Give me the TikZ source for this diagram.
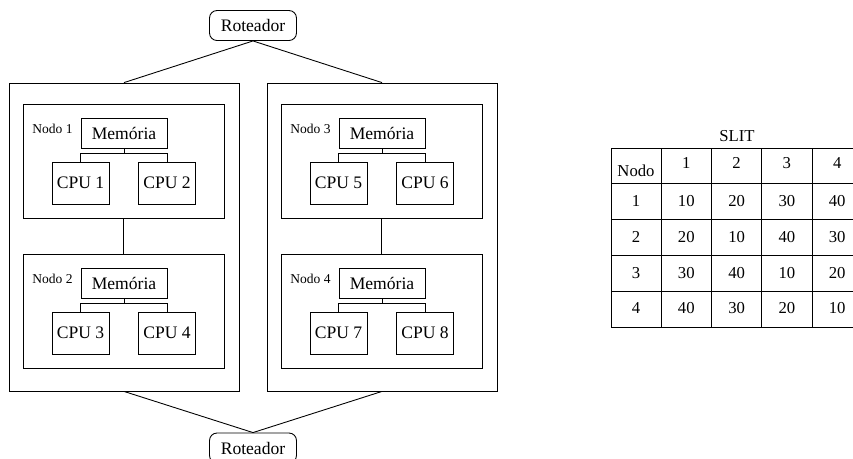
\documentclass[tikz,border=0pt]{standalone}
\usepackage{fontspec}
\setmainfont{Liberation Serif}

\tikzset{
	roteador/.style={draw, rounded corners=0.15cm, minimum width=1.74cm, minimum height=0.6cm, inner sep=0pt, font=\fontsize{10}{12}\selectfont},
	externo/.style={draw, minimum width=4.6cm, minimum height=6.16cm, inner sep=0pt},
	nodobox/.style={draw, minimum width=4.02cm, minimum height=2.28cm, inner sep=0pt},
	memoria/.style={draw, minimum width=1.72cm, minimum height=0.6cm, inner sep=0pt, font=\fontsize{10}{12}\selectfont},
	cpu/.style={draw, minimum width=1.14cm, minimum height=0.84cm, inner sep=0pt, font=\fontsize{10}{12}\selectfont},
	rotulo/.style={anchor=base west, inner sep=0pt, font=\fontsize{7.7}{9}\selectfont},
	celula/.style={inner sep=0pt, font=\fontsize{9.5}{11}\selectfont}
}

\begin{document}
\begin{tikzpicture}[x=0.02cm, y=-0.02cm, line width=0.5pt]
		\useasboundingbox (0, 0) rectangle (853, 458);

		% roteadores e caixas externas
		\node[roteador] (rtopo) at (253, 25.5) {Roteador};
		\node[roteador] (rbase) at (253, 448) {Roteador};
		\node[externo] (esq) at (124, 237) {};
		\node[externo] (dir) at (382, 237) {};

		\draw (rtopo.south) -- (esq.north);
		\draw (rtopo.south) -- (dir.north);
		\draw (esq.south) -- (rbase.north);
		\draw (dir.south) -- (rbase.north);

		% nodos
		\foreach \n/\dx/\dy/\a/\b in {1/0/0/1/2, 2/0/150/3/4, 3/258/0/5/6, 4/258/150/7/8} {
			\node[nodobox] (nodo\n) at (123.5+\dx, 161.5+\dy) {};
			\node[rotulo] (rot\n) at (32+\dx, 133+\dy) {Nodo \n};
			\node[memoria] (mem\n) at (124+\dx, 133+\dy) {Memória};
			\node[cpu] (cpu\a) at (80.5+\dx, 183+\dy) {CPU \a};
			\node[cpu] (cpu\b) at (167+\dx, 183+\dy) {CPU \b};
			\draw (mem\n.south) -- ++(0, 5) -| (cpu\a.north);
			\draw (mem\n.south) -- ++(0, 5) -| (cpu\b.north);
		}

		\draw (nodo1.south) -- (nodo2.north);
		\draw (nodo3.south) -- (nodo4.north);

		% tabela SLIT
		\node[celula] (slit) at (737, 136) {SLIT};
		\foreach \i in {0,...,5}
			\draw (611+50.3*\i, 148) -- (611+50.3*\i, 327);
		\foreach \j in {0,...,5}
			\draw (611, 148+35.8*\j) -- (862.5, 148+35.8*\j);

		\node[celula] (cab0) at (636, 171) {Nodo};
		\foreach \c in {1,...,4}
			\node[celula] (cab\c) at (636+50.3*\c, 163) {\c};

		\foreach \r/\va/\vb/\vc/\vd in {1/10/20/30/40, 2/20/10/40/30, 3/30/40/10/20, 4/40/30/20/10} {
			\node[celula] (l\r c0) at (636, 201+35.8*\r-35.8) {\r};
			\node[celula] (l\r c1) at (686.3, 201+35.8*\r-35.8) {\va};
			\node[celula] (l\r c2) at (736.6, 201+35.8*\r-35.8) {\vb};
			\node[celula] (l\r c3) at (786.9, 201+35.8*\r-35.8) {\vc};
			\node[celula] (l\r c4) at (837.2, 201+35.8*\r-35.8) {\vd};
		}
	\end{tikzpicture}
\end{document}
